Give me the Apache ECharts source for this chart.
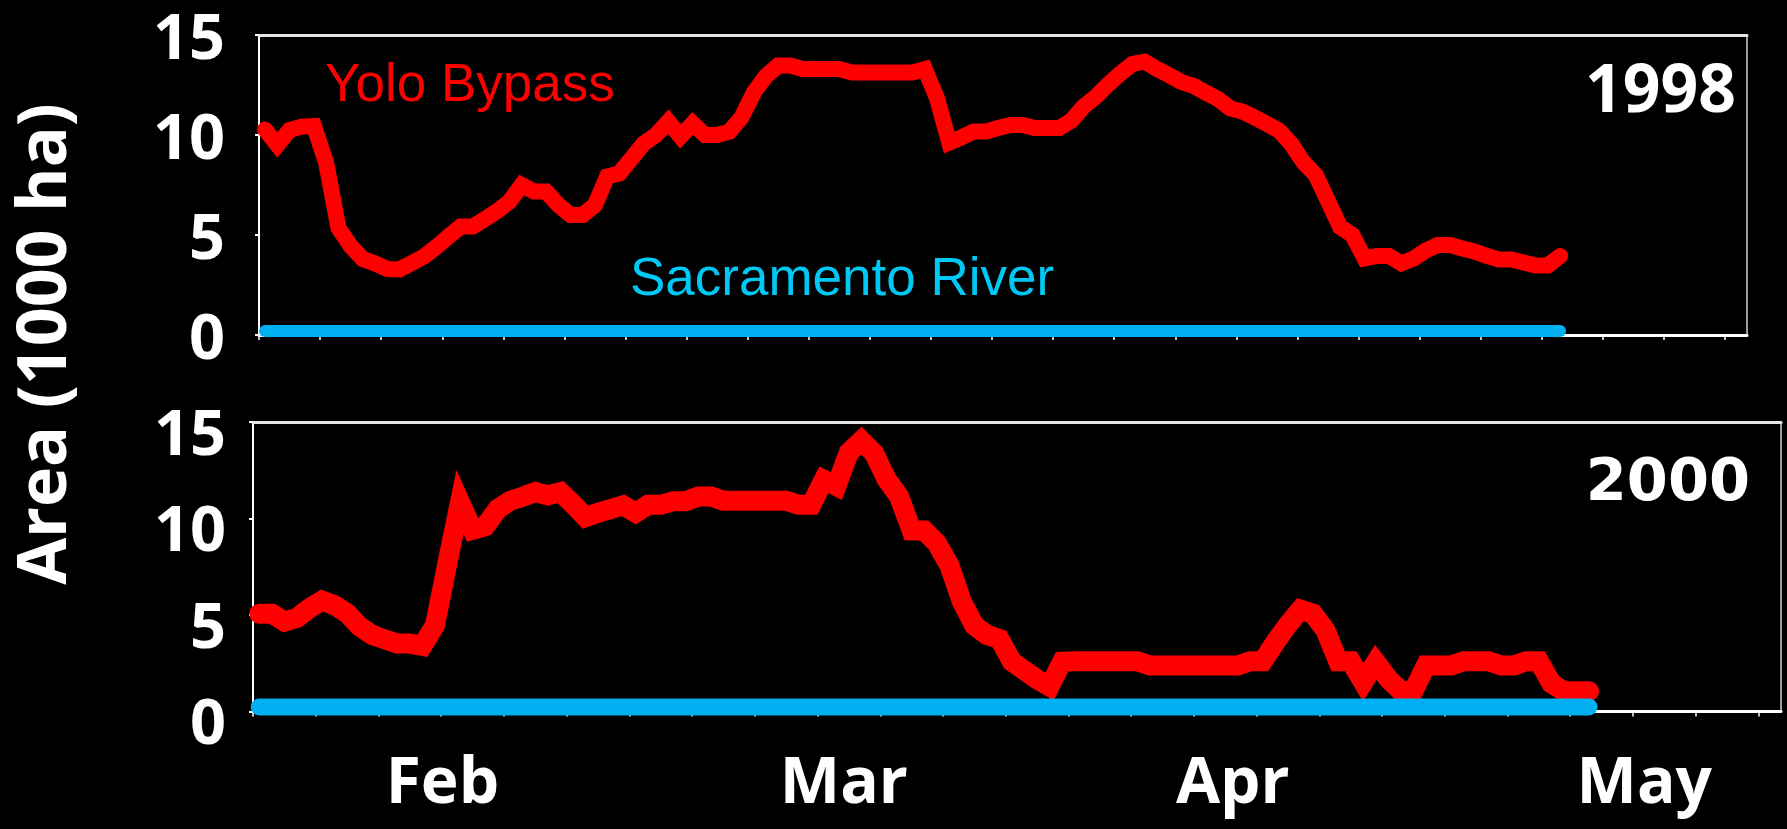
<!DOCTYPE html>
<html>
<head>
<meta charset="utf-8">
<script src="https://cdn.jsdelivr.net/npm/echarts@6/dist/echarts.min.js"></script>
<style>
html,body{margin:0;padding:0;background:#000;}
#chart{width:1787px;height:829px;}
</style>
</head>
<body>
<div id="chart"></div>
<script>
// ---- data (x in days from the left edge of the axis; one value per day) ----
const FIRST_DAY = 0.5;
const yolo1998 = [
  10.27, 9.5, 10.25, 10.42, 10.45, 8.6, 5.35, 4.45, 3.8, 3.58,
  3.3, 3.28, 3.6, 3.92, 4.4, 4.92, 5.42, 5.42, 5.8, 6.2,
  6.67, 7.5, 7.17, 7.17, 6.5, 6.0, 6.0, 6.5, 7.92, 8.08,
  8.83, 9.58, 10.0, 10.67, 9.92, 10.58, 10.0, 10.0, 10.17, 10.88,
  12.12, 12.95, 13.47, 13.47, 13.3, 13.3, 13.3, 13.3, 13.13, 13.13,
  13.13, 13.13, 13.13, 13.13, 13.3, 11.83, 9.62, 9.88, 10.17, 10.17,
  10.35, 10.5, 10.5, 10.35, 10.35, 10.35, 10.72, 11.42, 11.92, 12.52,
  13.07, 13.55, 13.67, 13.3, 12.99, 12.65, 12.45, 12.12, 11.8, 11.33,
  11.17, 10.88, 10.55, 10.22, 9.55, 8.63, 8.0, 6.7, 5.4, 5.0,
  3.83, 3.95, 3.95, 3.58, 3.82, 4.22, 4.5, 4.5, 4.33, 4.18,
  3.95, 3.78, 3.78, 3.63, 3.48, 3.48, 3.95
];
const yolo2000 = [
  5.07, 5.07, 4.66, 4.85, 5.35, 5.75, 5.5, 5.09, 4.4, 3.97,
  3.74, 3.52, 3.52, 3.4, 4.45, 7.7, 10.85, 9.41, 9.59, 10.49,
  10.92, 11.13, 11.37, 11.2, 11.37, 10.75, 10.07, 10.3, 10.49, 10.68,
  10.3, 10.71, 10.71, 10.9, 10.9, 11.14, 11.14, 10.92, 10.92, 10.92,
  10.92, 10.92, 10.92, 10.71, 10.71, 12.0, 11.68, 13.42, 14.03, 13.39,
  12.04, 11.14, 9.38, 9.38, 8.72, 7.58, 5.7, 4.45, 3.97, 3.76,
  2.58, 2.12, 1.67, 1.29, 2.58, 2.6, 2.6, 2.6, 2.6, 2.6,
  2.6, 2.38, 2.38, 2.38, 2.38, 2.38, 2.38, 2.38, 2.38, 2.6,
  2.6, 3.6, 4.5, 5.28, 5.06, 4.19, 2.6, 2.6, 1.51, 2.55,
  1.69, 1.06, 1.06, 2.38, 2.38, 2.38, 2.6, 2.6, 2.6, 2.38,
  2.38, 2.6, 2.6, 1.46, 1.05, 1.05, 1.05
];
const sacDays = [0.5, 106.5];
const sac1998 = [0.2, 0.2];
const sac2000 = [0.23, 0.23];

const xTickDays = [0,5,10,15,20,25,30,35,40,45,50,55,60,65,70,75,80,85,90,95,100,105,110,115,120];
const monthDays = [15.1, 47.1, 78.1, 110.9];
const monthNames = ['Feb', 'Mar', 'Apr', 'May'];
const X_MAX = 121.8;

// ---- build ----
const pairs = (vals) => vals.map((v, i) => [FIRST_DAY + i, v]);
const sacPairs = (vals) => vals.map((v, i) => [sacDays[i], v]);
const monthFor = (v) => {
  let best = 0;
  for (let i = 1; i < monthDays.length; i++) {
    if (Math.abs(monthDays[i] - v) < Math.abs(monthDays[best] - v)) best = i;
  }
  return monthNames[best];
};

const chart = echarts.init(document.getElementById('chart'), null, {renderer: 'canvas'});

function bottomAxis(gridIndex, showLabels) {
  return {
    type: 'value', gridIndex: gridIndex, position: 'bottom', min: 0, max: X_MAX,
    axisLine: {show: true, onZero: false, lineStyle: {color: '#ffffff', width: 3}},
    axisTick: {show: true, customValues: xTickDays, length: 5, lineStyle: {color: '#ffffff', width: 1.5}},
    axisLabel: showLabels ? {
      show: true, customValues: monthDays, formatter: (v) => monthFor(v),
      color: '#ffffff', fontFamily: 'Open Sans', fontWeight: 'bold', fontSize: 64, margin: 41
    } : {show: false},
    splitLine: {show: false}
  };
}
function topAxis(gridIndex) {
  return {
    type: 'value', gridIndex: gridIndex, position: 'top', min: 0, max: X_MAX,
    axisLine: {show: true, onZero: false, lineStyle: {color: '#e6e6e6', width: 3}},
    axisTick: {show: false}, axisLabel: {show: false}, splitLine: {show: false}
  };
}
function leftAxis(gridIndex, margin, shift) {
  return {
    type: 'value', gridIndex: gridIndex, min: 0, max: 15, interval: 5,
    axisLine: {show: true, onZero: false, lineStyle: {color: '#ffffff', width: 2}},
    axisTick: {show: true, length: 4, lineStyle: {color: '#ffffff', width: 2}},
    axisLabel: {
      show: true, color: '#ffffff', fontFamily: 'Open Sans', fontWeight: 'bold',
      fontSize: 63, margin: margin, verticalAlign: 'top', lineHeight: shift * 2
    },
    splitLine: {show: false}
  };
}

const option = {
  backgroundColor: '#000000',
  animation: false,
  grid: [
    {left: 259, top: 35, width: 1488, height: 300, show: true, borderColor: '#cfcfcf', borderWidth: 1.5, outerBoundsMode: 'none'},
    {left: 253, top: 422, width: 1528, height: 289.5, show: true, borderColor: '#cfcfcf', borderWidth: 1.5, outerBoundsMode: 'none'}
  ],
  xAxis: [bottomAxis(0, false), topAxis(0), bottomAxis(1, true), topAxis(1)],
  yAxis: [leftAxis(0, 34, 6), leftAxis(1, 27, 15)],
  series: [
    {
      name: 'Yolo Bypass 1998', type: 'line', xAxisIndex: 0, yAxisIndex: 0,
      data: pairs(yolo1998), symbol: 'none', showSymbol: false,
      lineStyle: {color: '#ff0000', width: 16, cap: 'round', join: 'miter', miterLimit: 4}
    },
    {
      name: 'Sacramento River 1998', type: 'line', xAxisIndex: 0, yAxisIndex: 0,
      data: sacPairs(sac1998), symbol: 'none', showSymbol: false,
      lineStyle: {color: '#00b0f0', width: 12, cap: 'round'}
    },
    {
      name: 'Yolo Bypass 2000', type: 'line', xAxisIndex: 2, yAxisIndex: 1,
      data: pairs(yolo2000), symbol: 'none', showSymbol: false,
      lineStyle: {color: '#ff0000', width: 20, cap: 'round', join: 'miter', miterLimit: 4}
    },
    {
      name: 'Sacramento River 2000', type: 'line', xAxisIndex: 2, yAxisIndex: 1,
      data: sacPairs(sac2000), symbol: 'none', showSymbol: false,
      lineStyle: {color: '#00b0f0', width: 17, cap: 'round'}
    }
  ],
  graphic: [
    {type: 'text', x: 325, y: 86, z: 10, style: {text: 'Yolo Bypass', font: '53px "Liberation Sans", Arial, sans-serif', fill: '#ff0000', align: 'left', verticalAlign: 'middle'}},
    {type: 'text', x: 630, y: 280, z: 10, style: {text: 'Sacramento River', font: '53px "Liberation Sans", Arial, sans-serif', fill: '#00c8f5', align: 'left', verticalAlign: 'middle'}},
    {type: 'text', x: 1736, y: 93, z: 10, style: {text: '1998', font: 'bold 66px "Open Sans", sans-serif', fill: '#ffffff', align: 'right', verticalAlign: 'middle'}},
    {type: 'text', x: 1750, y: 485, z: 10, style: {text: '2000', font: 'bold 59px "DejaVu Sans", sans-serif', fill: '#ffffff', align: 'right', verticalAlign: 'middle'}},
    {type: 'text', x: 47, y: 344, rotation: Math.PI / 2, z: 10, style: {text: 'Area (1000 ha)', font: 'bold 68px "Open Sans", sans-serif', fill: '#ffffff', align: 'center', verticalAlign: 'middle'}}
  ]
};
chart.setOption(option);
</script>
</body>
</html>
